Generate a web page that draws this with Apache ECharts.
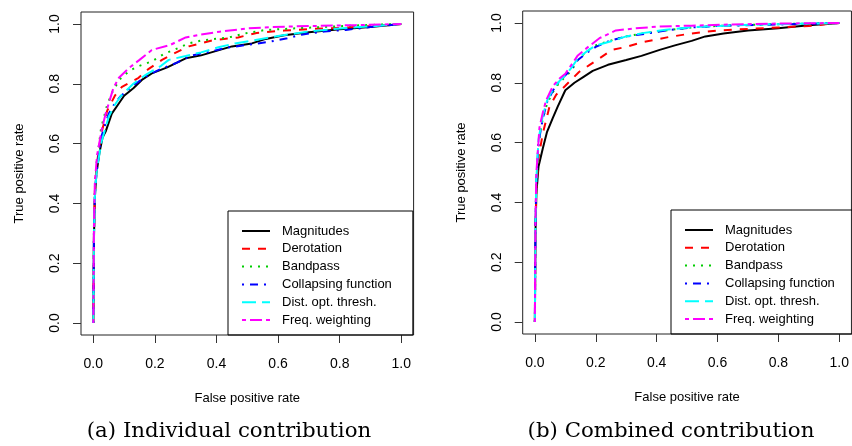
<!DOCTYPE html>
<html><head><meta charset="utf-8">
<script src="https://cdn.jsdelivr.net/npm/echarts@6/dist/echarts.min.js"></script>
<style>html,body{margin:0;padding:0;background:#fff}#c{width:852px;height:446px}</style>
</head><body><div id="c"></div>
<script>
// Names, ticks
const seriesNames = ['Magnitudes','Derotation','Bandpass','Collapsing function','Dist. opt. thresh.','Freq. weighting'];
const tickValues = [0, 0.2, 0.4, 0.6, 0.8, 1.0];
const panelCaptions = ['(a) Individual contribution', '(b) Combined contribution'];
const xTitle = 'False positive rate';
const yTitle = 'True positive rate';

// (a) Individual contribution : [FPR, TPR]
const aMagnitudes = [[0,0],[0.002,0.28],[0.005,0.42],[0.01,0.5],[0.02,0.57],[0.03,0.62],[0.04,0.64],[0.05,0.67],[0.06,0.7],[0.08,0.73],[0.1,0.76],[0.13,0.785],[0.16,0.815],[0.19,0.835],[0.24,0.855],[0.3,0.885],[0.35,0.895],[0.4,0.91],[0.45,0.925],[0.515,0.935],[0.56,0.95],[0.62,0.962],[0.7,0.972],[0.8,0.982],[0.9,0.99],[1,1]];
const aDerotation = [[0,0],[0.002,0.3],[0.005,0.44],[0.01,0.52],[0.025,0.63],[0.045,0.71],[0.07,0.76],[0.093,0.79],[0.12,0.805],[0.147,0.82],[0.18,0.85],[0.223,0.88],[0.26,0.9],[0.31,0.925],[0.385,0.945],[0.47,0.955],[0.53,0.97],[0.62,0.978],[0.7,0.983],[0.8,0.987],[0.9,0.993],[1,1]];
const aBandpass = [[0,0],[0.002,0.3],[0.005,0.45],[0.01,0.53],[0.025,0.65],[0.045,0.73],[0.065,0.78],[0.09,0.82],[0.12,0.845],[0.15,0.86],[0.19,0.875],[0.23,0.9],[0.266,0.915],[0.31,0.935],[0.353,0.945],[0.44,0.955],[0.5,0.97],[0.56,0.98],[0.65,0.985],[0.75,0.99],[0.85,0.995],[1,1]];
const aCollapsing = [[0,0],[0.002,0.3],[0.005,0.43],[0.01,0.5],[0.025,0.62],[0.05,0.7],[0.07,0.735],[0.09,0.76],[0.13,0.795],[0.18,0.83],[0.22,0.85],[0.27,0.87],[0.32,0.895],[0.37,0.905],[0.43,0.92],[0.5,0.93],[0.57,0.94],[0.63,0.952],[0.68,0.965],[0.75,0.975],[0.82,0.98],[0.9,0.99],[1,1]];
const aDistOpt = [[0,0],[0.002,0.29],[0.005,0.42],[0.01,0.5],[0.025,0.6],[0.05,0.69],[0.07,0.73],[0.09,0.76],[0.13,0.8],[0.17,0.83],[0.22,0.86],[0.245,0.88],[0.3,0.893],[0.35,0.905],[0.406,0.922],[0.46,0.935],[0.52,0.945],[0.6,0.96],[0.7,0.975],[0.8,0.985],[0.9,0.992],[1,1]];
const aFreqWeight = [[0,0],[0.002,0.32],[0.005,0.47],[0.012,0.56],[0.028,0.65],[0.04,0.7],[0.065,0.785],[0.083,0.82],[0.115,0.852],[0.15,0.88],[0.19,0.913],[0.25,0.93],[0.3,0.955],[0.35,0.965],[0.41,0.974],[0.5,0.985],[0.58,0.99],[0.7,0.993],[0.85,0.996],[1,1]];

// (b) Combined contribution : [FPR, TPR]
const bMagnitudes = [[0,0],[0.002,0.3],[0.005,0.43],[0.012,0.52],[0.026,0.58],[0.04,0.636],[0.058,0.68],[0.075,0.72],[0.1,0.775],[0.13,0.8],[0.16,0.82],[0.19,0.84],[0.24,0.86],[0.3,0.876],[0.35,0.89],[0.41,0.91],[0.46,0.925],[0.515,0.94],[0.56,0.955],[0.62,0.965],[0.7,0.975],[0.8,0.982],[0.9,0.992],[1,1]];
const bDerotation = [[0,0],[0.002,0.32],[0.005,0.45],[0.012,0.55],[0.026,0.63],[0.048,0.72],[0.07,0.76],[0.1,0.79],[0.145,0.836],[0.18,0.86],[0.21,0.88],[0.253,0.91],[0.3,0.92],[0.35,0.935],[0.44,0.953],[0.515,0.965],[0.6,0.975],[0.7,0.98],[0.8,0.985],[0.9,0.99],[1,1]];
const bBandpass = [[0,0],[0.002,0.33],[0.005,0.47],[0.012,0.6],[0.026,0.68],[0.04,0.73],[0.06,0.77],[0.08,0.8],[0.1,0.82],[0.12,0.84],[0.14,0.875],[0.17,0.905],[0.2,0.925],[0.245,0.94],[0.3,0.955],[0.353,0.965],[0.43,0.975],[0.515,0.985],[0.6,0.99],[0.75,0.995],[0.9,0.998],[1,1]];
const bCollapsing = [[0,0],[0.002,0.33],[0.005,0.48],[0.012,0.6],[0.026,0.68],[0.04,0.735],[0.06,0.775],[0.08,0.805],[0.1,0.825],[0.12,0.845],[0.14,0.875],[0.17,0.9],[0.2,0.92],[0.245,0.94],[0.3,0.955],[0.353,0.962],[0.43,0.975],[0.515,0.985],[0.6,0.99],[0.75,0.994],[0.9,0.997],[1,1]];
const bDistOpt = [[0,0],[0.002,0.33],[0.005,0.48],[0.012,0.61],[0.026,0.69],[0.04,0.74],[0.06,0.78],[0.08,0.805],[0.1,0.825],[0.12,0.85],[0.14,0.88],[0.169,0.904],[0.2,0.925],[0.245,0.937],[0.3,0.955],[0.353,0.966],[0.43,0.977],[0.515,0.986],[0.6,0.99],[0.75,0.995],[0.9,0.998],[1,1]];
const bFreqWeight = [[0,0],[0.002,0.35],[0.005,0.5],[0.015,0.65],[0.026,0.7],[0.037,0.742],[0.06,0.79],[0.082,0.815],[0.1,0.83],[0.12,0.86],[0.14,0.89],[0.169,0.915],[0.212,0.949],[0.266,0.975],[0.33,0.982],[0.407,0.988],[0.515,0.991],[0.65,0.995],[0.8,0.998],[1,1]];

const panelData = [
  [aMagnitudes, aDerotation, aBandpass, aCollapsing, aDistOpt, aFreqWeight],
  [bMagnitudes, bDerotation, bBandpass, bCollapsing, bDistOpt, bFreqWeight]
];
const lineColors = ['#000000','#ff0000','#00cd00','#0000ff','#00ffff','#ff00ff'];
const lineDashes = ['solid',[8,8],[2,6],[2,6,8,6],[14,6],[4,4,12,4]];

const FONT = 'Liberation Sans, Arial, Helvetica, sans-serif';
const grids = [
  {left: 81, top: 12, width: 332.6, height: 323},
  {left: 522.7, top: 11, width: 332.6, height: 323}
];
const legendPos = [{left: 228, top: 211}, {left: 671, top: 210}];
const captionX = [229, 671];
const fmt = v => Number(v).toFixed(1);

function axisCommon(isX) {
  return {
    type: 'value', min: -0.04, max: 1.04,
    axisLine: {show: false, onZero: false},
    splitLine: {show: false},
    axisTick: {show: true, inside: false, customValues: tickValues, length: 8, lineStyle: {color: '#333', width: 1}},
    axisLabel: {show: true, customValues: tickValues, formatter: fmt, color: '#000', fontFamily: FONT, fontSize: 14,
      margin: isX ? 22 : 19, rotate: isX ? 0 : 90},
    name: isX ? xTitle : yTitle, nameLocation: 'middle', nameGap: isX ? 57 : 55,
    nameTextStyle: {color: '#000', fontFamily: FONT, fontSize: 13}
  };
}

const xAxes = [], yAxes = [], series = [], legends = [], titles = [];
grids.forEach((g, i) => {
  xAxes.push(Object.assign({gridIndex: i}, axisCommon(true)));
  yAxes.push(Object.assign({gridIndex: i}, axisCommon(false)));
  panelData[i].forEach((d, k) => {
    series.push({
      type: 'line', name: seriesNames[k], xAxisIndex: i, yAxisIndex: i, data: d,
      symbol: 'none', showSymbol: false, smooth: false, animation: false, clip: true,
      lineStyle: {color: lineColors[k], width: 2, type: lineDashes[k]},
      itemStyle: {color: lineColors[k]}
    });
  });
  legends.push({
    left: legendPos[i].left, top: legendPos[i].top, orient: 'vertical', data: seriesNames,
    borderColor: '#000', borderWidth: 1, padding: [13.5, 21, 8.5, 13],
    itemWidth: 28, itemHeight: 14, itemGap: 4.8, selectedMode: false,
    itemStyle: {opacity: 0, borderWidth: 0},
    textStyle: {color: '#000', fontFamily: FONT, fontSize: 13, padding: [0,0,0,7]}
  });
  titles.push({
    text: panelCaptions[i], left: captionX[i], top: 421, textAlign: 'center', padding: 0,
    textStyle: {fontFamily: 'DejaVu Serif, serif', fontWeight: 'normal', fontSize: 21.3, color: '#000'}
  });
});

const chart = echarts.init(document.getElementById('c'), null, {renderer: 'canvas'});
chart.setOption({
  backgroundColor: '#fff',
  animation: false,
  grid: grids.map(g => Object.assign({show: true, borderColor: '#222', borderWidth: 1, backgroundColor: 'transparent'}, g)),
  xAxis: xAxes, yAxis: yAxes, series: series, legend: legends, title: titles
});
</script></body></html>
